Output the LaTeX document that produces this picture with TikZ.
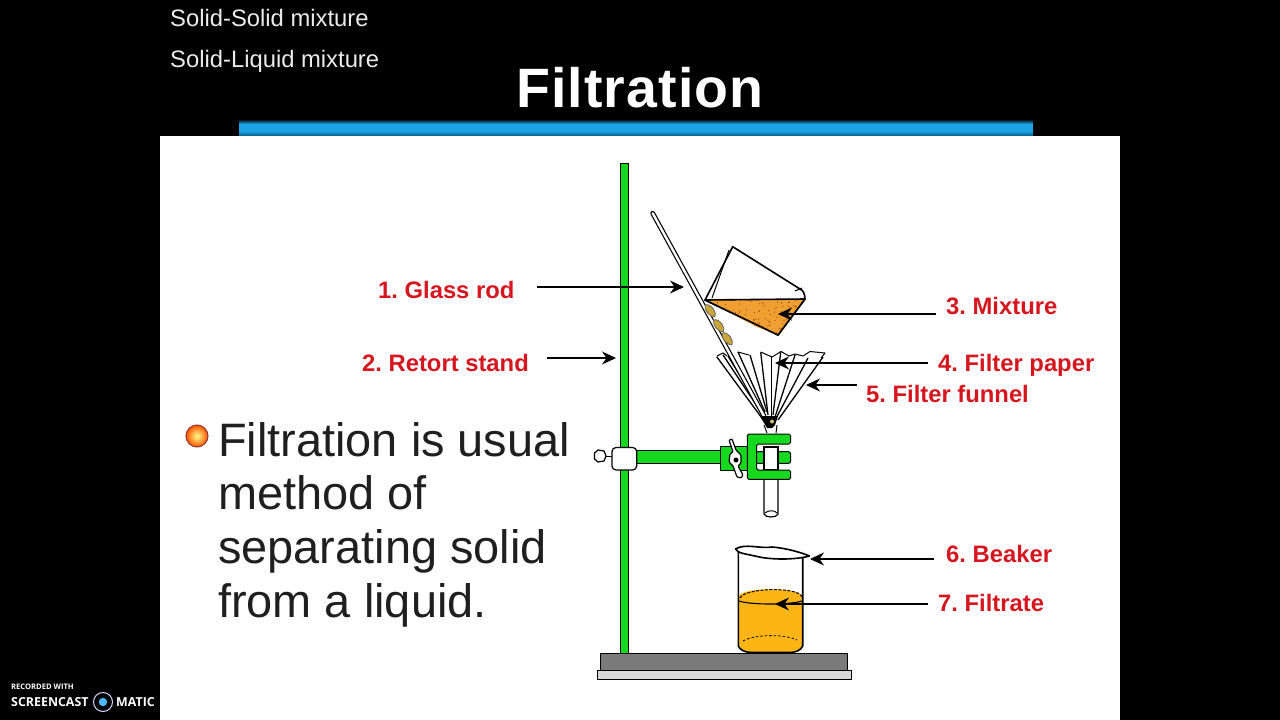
\documentclass[tikz,border=0pt]{standalone}
\usepackage{fontspec}
\setmainfont{Liberation Sans}
\newfontfamily\logofont{Open Sans}
\newfontfamily\titlefont[LetterSpace=2.0]{Liberation Sans Bold}
\usetikzlibrary{arrows.meta,calc}
\definecolor{clampgreen}{HTML}{16D81E}
\definecolor{labelred}{HTML}{D5161E}
\definecolor{liquidorange}{HTML}{FDB515}
\definecolor{mixorange}{HTML}{F0A032}
\definecolor{dotbrown}{HTML}{A34A12}
\definecolor{barblue}{HTML}{1CA3E4}
\definecolor{bardark}{HTML}{0B5F8E}
\definecolor{dropgold}{HTML}{C8A63C}
\newcommand{\fsz}[1]{\fontsize{#1}{#1}\selectfont}
\tikzset{
  lab/.style={anchor=base west,inner sep=0pt,text=labelred,font=\frenchspacing\fsz{23.8}\bfseries},
  pointer/.style={draw=black,line width=1.1pt,-{Stealth[length=14pt,width=13pt]}},
  body/.style={anchor=base west,inner sep=0pt,text=black!88,font=\frenchspacing\fsz{46.9}},
  toptext/.style={anchor=base west,inner sep=0pt,text=white!92!black,font=\fsz{23.8}},
  greenpart/.style={fill=clampgreen,draw=black,line width=1pt},
  whitepart/.style={fill=white,draw=black,line width=1.2pt},
  ink/.style={draw=black,line width=1pt,line join=round},
  inkheavy/.style={draw=black,line width=1.6pt,line join=round},
  logotext/.style={anchor=base west,inner sep=0pt,text=white,font=\logofont\bfseries},
}
\begin{document}
\begin{tikzpicture}[x=1pt,y=-1pt]
\useasboundingbox (0,0) rectangle (1280,720);
\fill[black] (0,0) rectangle (1280,720);
\fill[white] (160,136) rectangle (1120,720);
% title bar
\shade[top color=black!70!bardark,bottom color=barblue] (239,120) rectangle (1033,124);
\fill[barblue] (239,124) rectangle (1033,131);
\shade[top color=barblue,bottom color=bardark] (239,131) rectangle (1033,135.5);
\node[anchor=base,inner sep=0pt,text=white,font=\titlefont\fsz{55.5}] (title) at (640,107.5) {Filtration};
\node[toptext] (t1) at (170,26) {Solid-Solid mixture};
\node[toptext] (t2) at (170,67) {Solid-Liquid mixture};
% bullet
\shade[inner color=yellow!45!white,outer color=orange!65!red,draw=red!45!black!80,line width=1pt] (197,436) circle (11);
\node[body] (b1) at (218,456) {Filtration is usual};
\node[body] (b2) at (218,509) {method of};
\node[body] (b3) at (218,563) {separating solid};
\node[body] (b4) at (218,617) {from a liquid.};
% base
\fill[black!52,draw=black,line width=1pt] (600.7,653) rectangle (847.3,670);
\fill[black!15,draw=black,line width=1pt] (597.5,670.5) rectangle (851.7,679.3);
% stand
\path[greenpart] (620.4,163) rectangle (628.2,653);
% funnel stem below clamp
\path[whitepart] (764,447) -- (764,514) .. controls (765,518) and (777,518) .. (778,514) -- (778,447) -- cycle;
\draw[ink] (765,513) .. controls (768,510) and (775,510) .. (777,513);
% clamp arm
\path[greenpart] (636,450.7) rectangle (721,463.3);
\path[greenpart] (720.7,446.7) rectangle (748,470);
\path[greenpart,rounded corners=2pt] (756,451.7) rectangle (790.5,463.3);
\path[whitepart] (764,447) rectangle (778,470);
\path[greenpart,rounded corners=1.5pt] (747.3,434) -- (790.5,434) -- (790.5,444) -- (756.7,444) -- (756.7,470) -- (790.5,470) -- (790.5,479.3) -- (747.3,479.3) -- cycle;
% wing nut
\path[whitepart,rounded corners=1pt] (729,440) -- (732,439) -- (736,450) -- (741,455) -- (741,463) -- (738,466) -- (743,475) -- (741,478) -- (737,477) -- (733,466) -- (729,462) -- (730,454) -- (733,452) -- cycle;
\fill[black] (736,460) circle (2.5);
% boss
\path[whitepart,rounded corners=4pt] (612,447.5) rectangle (636.7,470);
\draw[ink] (605,456) -- (612,456);
\path[whitepart] (594.5,453) -- (598,450) -- (604,451) -- (606,456) -- (604,461) -- (598,462) -- (594.5,459) -- cycle;
% funnel stub above clamp
\draw[ink] (764,425) -- (767,433) (777,425) -- (776,433);
% filter paper
\draw[ink] (717,356) -- (723,353) -- (727,356) (738,352) -- (749,355)
  (760.7,352) -- (772,357) -- (781,351.5) -- (789,356) -- (795,354) -- (803,356) -- (810,351.5) -- (825,353) -- (821,358);
\foreach \tx/\ty/\bx/\by in {716.7/356.7/763.3/420,723/355/765/418,728/356/766/418,738/352/765/412,750/355/767/412,760.7/352.3/768/415,771.7/356.7/771.7/417,780.7/352.3/773/415,795/355/775/417,808/358/776.7/417,823/357/778/420}
  \draw[line width=1.3pt,black] (\tx,\ty) -- (\bx,\by);
% glass rod
\draw[line width=4.8pt,black,line cap=round] (652.7,213.3) -- (764,416);
\draw[line width=2.4pt,white,line cap=round] (652.7,213.3) -- (764,416);
% funnel tip
\fill[black] (760,416) -- (778,416) -- (775,425) -- (772,428) -- (767,428) -- cycle;
\fill[dropgold!70!white] (772,421.5) circle (2);
% mixture beaker
\path[inkheavy,fill=white] (705,300) -- (732.7,246.7) -- (800,289) .. controls (803,290) and (805,294) .. (805,299) -- (778,335) -- cycle;
\draw[ink] (729,250) -- (712,298);
\draw[ink] (795,291) -- (802,288);
\begin{scope}
\clip (706,300) -- (805,299) -- (783,330) -- (778,335) -- (757,327) -- cycle;
\fill[mixorange] (700,295) rectangle (810,340);
\pgfmathsetseed{4242}
\foreach \i in {1,...,190}{
  \pgfmathsetmacro{\dx}{705+100*rnd}
  \pgfmathsetmacro{\dy}{299+36*rnd}
  \fill[dotbrown] (\dx,\dy) circle (0.65);
}
\end{scope}
\draw[inkheavy] (705,300) -- (805,299) -- (778,335) -- cycle;
% drops
\foreach \cx/\cy in {710/311,718.5/326,727/339}
  \path[draw=black!60,line width=.8pt,fill=dropgold] (\cx-5,\cy-6) .. controls (\cx+2,\cy-8) and (\cx+7,\cy+2) .. (\cx+5,\cy+6) .. controls (\cx,\cy+6) and (\cx-6,\cy) .. (\cx-5,\cy-6);
% receiving beaker
\fill[liquidorange] (739,596) .. controls (742,587) and (799,587) .. (802,596) -- (802.5,645) .. controls (800,651) and (795,652.5) .. (790,652.5) -- (752,652.5) .. controls (746,652.5) and (741,650) .. (739,645) -- cycle;
\draw[inkheavy] (738.3,551) -- (738.3,646) .. controls (740,650) and (745,652.5) .. (752,652.5) -- (790,652.5) .. controls (796,652.5) and (801,650) .. (802.7,646) -- (802.7,555);
\draw[line width=1.1pt,black] (739,601) .. controls (750,605) and (790,605) .. (802,601);
\draw[line width=1pt,black,dash pattern=on 3pt off 1.5pt] (740,598) .. controls (744,588) and (798,586) .. (802,597);
\draw[line width=.8pt,black,dash pattern=on 2.5pt off 2pt] (743,641) .. controls (755,634) and (785,634) .. (797,640);
\path[inkheavy,fill=white] (735.5,549) .. controls (745,543) and (760,549) .. (772,547) .. controls (785,548) and (800,552) .. (809.5,556) .. controls (795,560) and (770,560) .. (755,556) .. controls (746,554) and (737,553) .. (735.5,549) -- cycle;
% labels and pointers
\node[lab] (l1) at (378,298) {1. Glass rod};
\node[lab] (l2) at (362,371) {2. Retort stand};
\node[lab] (l3) at (946,314) {3. Mixture};
\node[lab] (l4) at (938,371) {4. Filter paper};
\node[lab] (l5) at (866,402) {5. Filter funnel};
\node[lab] (l6) at (946,562) {6. Beaker};
\node[lab] (l7) at (938,611) {7. Filtrate};
\coordinate (p1) at (684,287);
\coordinate (p2) at (616,358);
\coordinate (p3) at (778,314);
\coordinate (p4) at (775,363);
\coordinate (p5) at (806,385);
\coordinate (p6) at (810,559);
\coordinate (p7) at (775,604);
\draw[pointer] ([xshift=22pt,yshift=11pt]l1.base east) -- (p1);
\draw[pointer] ([xshift=18pt,yshift=13pt]l2.base east) -- (p2);
\draw[pointer] ([xshift=-10pt,yshift=0pt]l3.base west) -- (p3);
\draw[pointer] ([xshift=-10pt,yshift=8pt]l4.base west) -- (p4);
\draw[pointer] ([xshift=-9pt,yshift=17pt]l5.base west) -- (p5);
\draw[pointer] ([xshift=-12pt,yshift=3pt]l6.base west) -- (p6);
\draw[pointer] ([xshift=-10pt,yshift=7pt]l7.base west) -- (p7);
% watermark
\node[logotext,font=\logofont\bfseries\fsz{7.6}] (w1) at (11,689) {RECORDED WITH};
\node[logotext,font=\logofont\bfseries\fsz{12.4}] (w2) at (11,706) {SCREENCAST};
\node[logotext,font=\logofont\bfseries\fsz{12.4}] (w3) at (116,706) {MATIC};
\draw[white!85!blue,line width=1pt] (103,702) circle (9.5);
\fill[blue!40!cyan!70!white] (103,702) circle (4.2);
\end{tikzpicture}
\end{document}
